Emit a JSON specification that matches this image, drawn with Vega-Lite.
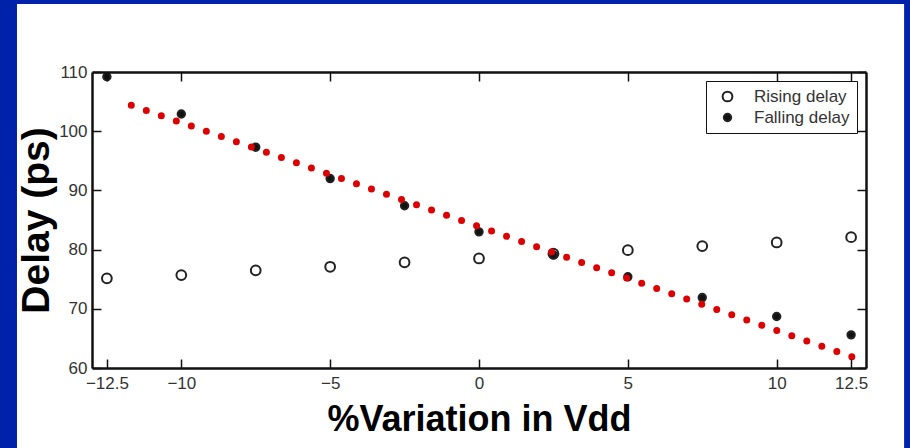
{
  "$schema": "https://vega.github.io/schema/vega-lite/v6.json",
  "width": 774,
  "height": 296,
  "autosize": {"type": "none"},
  "padding": {"left": 92, "top": 72, "right": 44, "bottom": 80},
  "background": "#0022AA",
  "config": {"view": {"stroke": null}, "axis": {"zindex": 1}},
  "datasets": {
    "delay": [
      {"variation": -12.5, "delay": 75.15, "series": "Rising delay"},
      {"variation": -10, "delay": 75.7, "series": "Rising delay"},
      {"variation": -7.5, "delay": 76.5, "series": "Rising delay"},
      {"variation": -5, "delay": 77.1, "series": "Rising delay"},
      {"variation": -2.5, "delay": 77.85, "series": "Rising delay"},
      {"variation": 0, "delay": 78.5, "series": "Rising delay"},
      {"variation": 2.5, "delay": 79.3, "series": "Rising delay"},
      {"variation": 5, "delay": 79.9, "series": "Rising delay"},
      {"variation": 7.5, "delay": 80.6, "series": "Rising delay"},
      {"variation": 10, "delay": 81.2, "series": "Rising delay"},
      {"variation": 12.5, "delay": 82.1, "series": "Rising delay"},
      {"variation": -12.5, "delay": 109.2, "series": "Falling delay"},
      {"variation": -10, "delay": 102.9, "series": "Falling delay"},
      {"variation": -7.5, "delay": 97.3, "series": "Falling delay"},
      {"variation": -5, "delay": 92.0, "series": "Falling delay"},
      {"variation": -2.5, "delay": 87.4, "series": "Falling delay"},
      {"variation": 0, "delay": 83.0, "series": "Falling delay"},
      {"variation": 2.5, "delay": 79.1, "series": "Falling delay"},
      {"variation": 5, "delay": 75.4, "series": "Falling delay"},
      {"variation": 7.5, "delay": 71.9, "series": "Falling delay"},
      {"variation": 10, "delay": 68.7, "series": "Falling delay"},
      {"variation": 12.5, "delay": 65.6, "series": "Falling delay"}
    ],
    "trend": [
      {"variation": -11.68, "delay": 104.4},
      {"variation": 12.64, "delay": 61.7}
    ]
  },
  "layer": [
    {
      "data": {"values": [{"panel": "background"}]},
      "mark": {"type": "rect", "color": "white", "clip": false, "zindex": 0},
      "encoding": {
        "x": {"datum": -15.52, "type": "quantitative", "scale": {"domain": [-13, 13], "nice": false, "zero": false}, "axis": null},
        "x2": {"datum": 14.28},
        "y": {"datum": 121.5, "type": "quantitative", "scale": {"domain": [60, 110], "nice": false, "zero": false}, "axis": null},
        "y2": {"datum": 40}
      }
    },
    {
      "data": {"name": "delay"},
      "mark": {"type": "point", "shape": "circle", "filled": true, "strokeWidth": 2, "opacity": 1},
      "encoding": {
        "x": {
          "field": "variation", "type": "quantitative",
          "scale": {"domain": [-13, 13], "nice": false, "zero": false},
          "axis": {
            "orient": "bottom", "values": [-12.5, -10, -5, 0, 5, 10, 12.5], "format": ".3~g", "zindex": 2,
            "grid": false, "tickSize": -9, "tickWidth": 1.5, "tickColor": "#111111",
            "domainColor": "#111111", "domainWidth": 2.5,
            "labelFont": "Liberation Sans", "labelFontSize": 17, "labelColor": "#333333",
            "labelPadding": 16, "labelFlush": false,
            "title": "%Variation in Vdd", "titleFont": "Liberation Sans", "titleFontSize": 36,
            "titleFontWeight": "bold", "titleColor": "#000000", "titlePadding": 11
          }
        },
        "y": {
          "field": "delay", "type": "quantitative",
          "scale": {"domain": [60, 110], "nice": false, "zero": false},
          "axis": {
            "orient": "left", "values": [60, 70, 80, 90, 100, 110], "zindex": 2,
            "grid": false, "tickSize": -9, "tickWidth": 1.5, "tickColor": "#111111",
            "domainColor": "#111111", "domainWidth": 2.5,
            "labelFont": "Liberation Sans", "labelFontSize": 17, "labelColor": "#333333",
            "labelPadding": 14, "labelFlush": false,
            "title": "Delay (ps)", "titleFont": "Liberation Sans", "titleFontSize": 39,
            "titleFontWeight": "bold", "titleColor": "#000000", "titlePadding": 2
          }
        },
        "fill": {
          "field": "series", "type": "nominal",
          "scale": {"domain": ["Rising delay", "Falling delay"], "range": ["rgba(0,0,0,0)", "#111111"]},
          "legend": {
            "title": null, "orient": "top-right", "offset": 9, "zindex": 3,
            "strokeColor": "#111111", "fillColor": "white", "padding": 7,
            "rowPadding": 2, "symbolOffset": 6, "labelOffset": 18,
            "labelFont": "Liberation Sans", "labelFontSize": 17, "labelColor": "#333333",
            "symbolStrokeWidth": 2,
            "encode": {"legend": {"update": {"strokeWidth": {"value": 1.5}}}}
          }
        },
        "stroke": {
          "field": "series", "type": "nominal",
          "scale": {"domain": ["Rising delay", "Falling delay"], "range": ["#222222", "#222222"]}
        },
        "size": {
          "field": "series", "type": "nominal",
          "scale": {"domain": ["Rising delay", "Falling delay"], "range": [95, 55]}
        }
      }
    },
    {
      "data": {"name": "trend"},
      "mark": {"type": "line", "color": "#DD0000", "strokeWidth": 7, "strokeCap": "round", "strokeDash": [0, 15.9]},
      "encoding": {
        "x": {
          "field": "variation", "type": "quantitative",
          "scale": {"domain": [-13, 13], "nice": false, "zero": false},
          "axis": {
            "orient": "top", "values": [-12.5, -10, -5, 0, 5, 10, 12.5], "labels": false, "title": null, "zindex": 2,
            "grid": false, "tickSize": -9, "tickWidth": 1.5, "tickColor": "#111111",
            "domainColor": "#111111", "domainWidth": 2.5
          }
        },
        "y": {
          "field": "delay", "type": "quantitative",
          "scale": {"domain": [60, 110], "nice": false, "zero": false},
          "axis": {
            "orient": "right", "values": [60, 70, 80, 90, 100, 110], "labels": false, "title": null, "zindex": 2,
            "grid": false, "tickSize": -9, "tickWidth": 1.5, "tickColor": "#111111",
            "domainColor": "#111111", "domainWidth": 2.5
          }
        }
      }
    }
  ],
  "resolve": {"axis": {"x": "independent", "y": "independent"}}
}
